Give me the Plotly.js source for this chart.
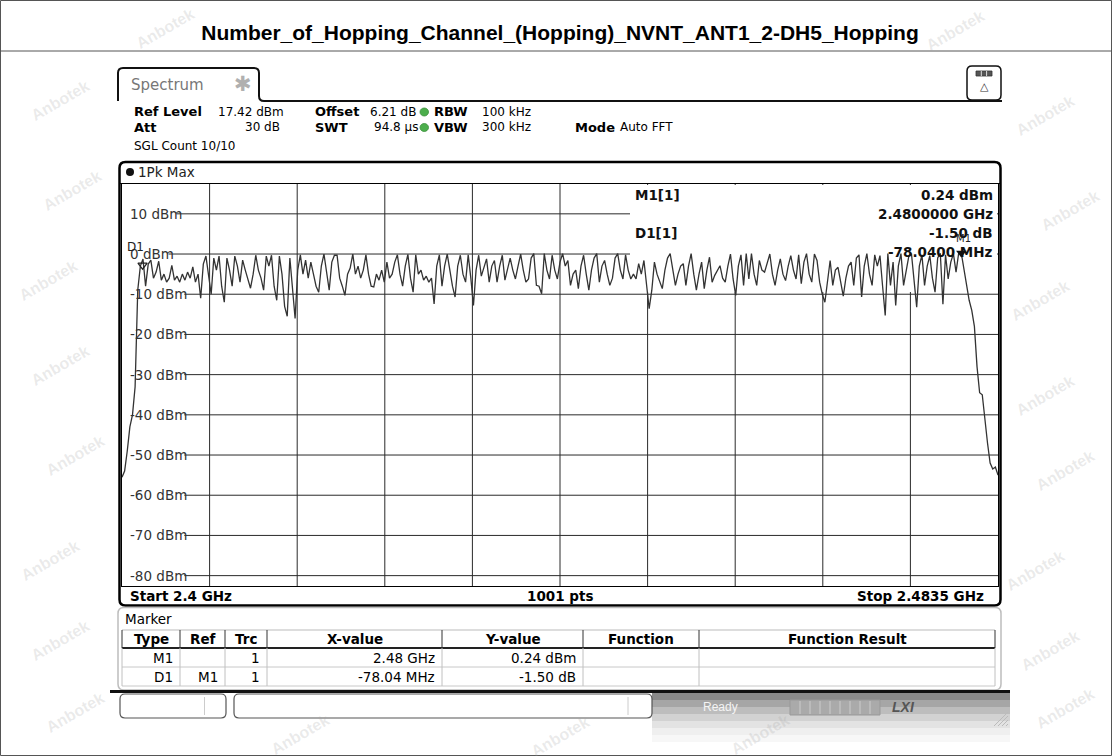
<!DOCTYPE html>
<html><head><meta charset="utf-8">
<script src="https://cdn.plot.ly/plotly-3.0.1.min.js"></script>
<style>html,body{margin:0;padding:0;background:#fff;}#chart{width:1112px;height:756px;}</style>
</head><body><div id="chart"></div>
<script>
// ---------------- data ----------------
const chartTitle = 'Number_of_Hopping_Channel_(Hopping)_NVNT_ANT1_2-DH5_Hopping';
const startFreqGHz = 2.4;
const stopFreqGHz = 2.4835;
const refLevelDbm = 17.42;
const displayRangeDb = 100;
const levelDbm = [
-55.5,-54,-49,-43,-40,-33,-9,-3,-1.26,-8,-2.5,-1.5,-6,-4.5,-1.8,-6.5,-5,-7,-6,-2.8,
-6.5,-5.5,-7,-5,-6.5,-4.5,-6,-3.2,-7,-5,-11,-2.5,-0.5,-6,-10,-1,-4,-0.5,-8,-12,
-1,-4,-8,-0.5,-3,-7,-1.5,-4,-6,-8.5,-5,-0.3,-4,-6,-9,-0.5,-3,-0.3,-8,-11.5,
-0.5,-5,-13,-15.5,-1,-8,-16,-4,-0.2,-5,-1.5,-6,-2,-5,-8,-9.5,-3,0,-5,-9,
-2,-0.3,-0.3,-6,-8,-10.3,-5,-3.5,0,-5,-3,-6,-4,-0.2,-5,-8,-8.2,-5,-6.5,-4,
-7,-2,-6,-5,-2,-0.2,-5,-8,-3,-0.1,-6,-9.5,-0.2,-5,-4,-6.5,-5.5,-7,-6,-12.4,
-3,-0.2,-8,-3,0,-4,-8,-10.7,-3,-0.3,-5,-7,-0.2,-6,-12.8,-4,-0.3,-5.5,-3,-1.2,
-7,-3,-1.6,-7,-3,-0.3,-6.5,-4,-1,-4,-6.2,-3,0,-4,-7,-6.2,-1,0.1,-7.8,-8,
-9.9,0.1,-4,-6.2,-0.3,-4,-6.2,-2,0.1,-3,-1.6,-7.8,-5,-4,-8.6,-3,-0.3,-5,-9,-4,
-1,0.1,-7,-3,-1.6,-5,-7.8,-6,-1,0.1,-4,-6.2,-0.2,-4,-6.2,-5,-6.2,-2.4,-5,-1.6,
-8,-13.6,-9,-2,-5,-7,-8.6,-4,-1,0.1,-4,-7.8,-5,-3,-2.4,-7.8,-3,0.1,-5,-9,
-5,-2,-8.6,-4,-0.8,-7,-5.3,-4,-2.9,-6,-7,-3,0,-6.2,-10.3,-3,-0.2,-7.8,0.1,-6.2,
0.1,-5,-7.8,-1.6,-4,-4.5,-2,0,-5,-7.8,-4,-1.2,-5,-6.6,-3,-0.4,-4,-6.2,-0.2,-7.4,
-2,0.1,-5,-7,0,-1.6,-7,-10,-12,-6.2,-1.6,-7.8,-4,-3.3,-7,-10.5,-6,-3,-2,-7.8,
-1,-0.2,-10.7,-3,0.1,-5,-7.8,-0.2,-3,-0.4,-8,-15.3,0.1,-7.8,-2,-12.8,-3,0.1,-7.8,-4,
-0.5,0.1,-6,-13.2,-3,-0.2,-7.8,-3,-0.4,-6,-9.5,-1,0.2,-12.5,-0.2,-6.2,-2,0.1,-4.5,0.2,
0.24,-3.7,-8,-11.5,-14,-18,-28,-34.5,-35,-42,-47,-52,-53.5,-53,-55
];
const yTickVals = [10, 0, -10, -20, -30, -40, -50, -60, -70, -80];
const yTickText = ['10 dBm','0 dBm','-10 dBm','-20 dBm','-30 dBm','-40 dBm','-50 dBm','-60 dBm','-70 dBm','-80 dBm'];
const xDivisions = 10;
const markerNames = ['M1', 'D1'];
const markerFreqGHz = [2.48, 2.40196];
const markerLevelDbm = [0.24, -1.26];
const markerInfoLabels = ['M1[1]', 'D1[1]'];
const markerInfoValues = [['0.24 dBm', '2.4800000 GHz'], ['-1.50 dB', '-78.0400 MHz']];
const tableHeaders = ['Type', 'Ref', 'Trc', 'X-value', 'Y-value', 'Function', 'Function Result'];
const tableRows = [
  ['M1', '', '1', '2.48 GHz', '0.24 dBm', '', ''],
  ['D1', 'M1', '1', '-78.04 MHz', '-1.50 dB', '', '']
];
const bottomLabels = ['Start 2.4 GHz', '1001 pts', 'Stop 2.4835 GHz'];
const traceLabel = '1Pk Max';

// ---------------- geometry helpers ----------------
const W = 1112, H = 756;
const PL = 122, PR = 998, PT = 184, PB = 586;
const X = px => (px - PL) / (PR - PL);
const Y = py => (PB - py) / (PB - PT);
const FONT = 'DejaVu Sans';
const shapes = [];
const ann = [];
function txt(px, py, text, o) {
  o = o || {};
  ann.push({xref: 'paper', yref: 'paper', x: X(px), y: Y(py), text: text, showarrow: false,
    xanchor: o.anchor || 'left', yanchor: 'middle',
    font: {family: o.family || FONT, size: o.size || 13.5, color: o.color || '#000', weight: o.bold ? 'bold' : 'normal'},
    textangle: o.angle || 0});
}
function line(x0, y0, x1, y1, color, width, layer) {
  shapes.push({type: 'line', xref: 'paper', yref: 'paper', x0: X(x0), y0: Y(y0), x1: X(x1), y1: Y(y1),
    line: {color: color, width: width}, layer: layer || 'above'});
}
function rect(x0, y0, x1, y1, fill, lineColor, lw, layer) {
  shapes.push({type: 'rect', xref: 'paper', yref: 'paper', x0: X(x0), y0: Y(y0), x1: X(x1), y1: Y(y1),
    fillcolor: fill, line: {color: lineColor || 'rgba(0,0,0,0)', width: lw || 0}, layer: layer || 'above'});
}
function rr(x0, y0, x1, y1, r, lineColor, lw, fill, layer) {
  const p = (a, b) => X(a) + ',' + Y(b);
  const d = 'M' + p(x0 + r, y0) + ' L' + p(x1 - r, y0) + ' Q' + p(x1, y0) + ' ' + p(x1, y0 + r) +
    ' L' + p(x1, y1 - r) + ' Q' + p(x1, y1) + ' ' + p(x1 - r, y1) + ' L' + p(x0 + r, y1) +
    ' Q' + p(x0, y1) + ' ' + p(x0, y1 - r) + ' L' + p(x0, y0 + r) + ' Q' + p(x0, y0) + ' ' + p(x0 + r, y0) + ' Z';
  shapes.push({type: 'path', xref: 'paper', yref: 'paper', path: d,
    line: {color: lineColor, width: lw}, fillcolor: fill || 'rgba(0,0,0,0)', layer: layer || 'above'});
}

// watermarks (faint)
const wm = [[60,100],[72,190],[48,280],[60,365],[75,455],[50,560],[60,640],[75,712],
  [1045,115],[1070,210],[1040,300],[1045,395],[1065,470],[1035,570],[1050,650],[1065,708],
  [165,28],[955,30],[300,734],[560,736],[760,734]];
wm.forEach(p => txt(p[0], p[1], 'Anbotek', {anchor: 'center', size: 16, color: 'rgba(160,160,160,0.22)', angle: -30, family: 'Liberation Sans', bold: true}));

// ---------------- grid (below traces) ----------------
const span = stopFreqGHz - startFreqGHz;
for (let k = 1; k < xDivisions; k++) {
  shapes.push({type: 'line', xref: 'x', yref: 'paper', x0: startFreqGHz + k * span / xDivisions,
    x1: startFreqGHz + k * span / xDivisions, y0: 0, y1: 1, line: {color: '#2a2a2a', width: 1}, layer: 'below'});
}
yTickVals.forEach((v, i) => {
  const endPx = 128 + yTickText[i].length * 7.9 + 1;
  shapes.push({type: 'line', xref: 'paper', yref: 'y', x0: X(endPx), x1: 1, y0: v, y1: v,
    line: {color: '#2a2a2a', width: 1}, layer: 'below'});
  txt(128, 0, yTickText[i], {color: '#333'});
  ann[ann.length - 1].yref = 'y'; ann[ann.length - 1].y = v;
});
// marker info box hides the grid in the upper right
rect(630, 185, 997, 292, '#fff', null, 0, 'below');

// ---------------- frames ----------------
shapes.push({type: 'path', xref: 'paper', yref: 'paper', layer: 'above',
  path: 'M' + X(118) + ',' + Y(101) + ' L' + X(118) + ',' + Y(73) + ' Q' + X(118) + ',' + Y(68) + ' ' + X(123) + ',' + Y(68) +
    ' L' + X(254) + ',' + Y(68) + ' Q' + X(259) + ',' + Y(68) + ' ' + X(259) + ',' + Y(73) +
    ' L' + X(259) + ',' + Y(96) + ' Q' + X(259) + ',' + Y(101) + ' ' + X(264) + ',' + Y(101) + ' L' + X(1002) + ',' + Y(101),
  line: {color: '#111', width: 2}});
rr(967, 66, 1001, 100, 5, '#111', 1.5, '#fff');
rect(976, 71, 992, 76, '#555', '#333', 0.8);
line(981.3, 71, 981.3, 76, '#ddd', 1); line(986.6, 71, 986.6, 76, '#ddd', 1);
txt(984, 87, '△', {anchor: 'center', size: 11, color: '#333'});
txt(129, 85, 'Spectrum', {size: 15, color: '#777'});
txt(243, 84, '✱', {anchor: 'center', size: 21, color: '#b0b0b0'});

// header settings
txt(132, 112, 'Ref Level', {bold: true, size: 13}); txt(216, 112, '17.42 dBm', {size: 12});
txt(313, 112, 'Offset', {bold: true, size: 13}); txt(368, 112, '6.21 dB', {size: 12});
txt(432, 112, 'RBW', {bold: true, size: 13}); txt(480, 112, '100 kHz', {size: 12});
txt(132, 127.5, 'Att', {bold: true, size: 13}); txt(282, 127.5, '30 dB', {anchor: 'right', size: 12});
txt(313, 127.5, 'SWT', {bold: true, size: 13}); txt(372, 127.5, '94.8 µs', {size: 12});
txt(432, 127.5, 'VBW', {bold: true, size: 13}); txt(480, 127.5, '300 kHz', {size: 12});
txt(573, 127.5, 'Mode', {bold: true, size: 13}); txt(618, 127.5, 'Auto FFT', {size: 12});
txt(132, 145.5, 'SGL Count 10/10', {size: 12});
[112, 127.5].forEach(yy => shapes.push({type: 'circle', xref: 'paper', yref: 'paper', x0: X(420), x1: X(428.5),
  y0: Y(yy - 4), y1: Y(yy + 4), fillcolor: '#4cae4c', line: {color: '#3a8f3a', width: 0.8}, layer: 'above'}));

// diagram frame
rr(119.5, 162, 1000.5, 605.5, 6, '#000', 2.5);
line(119.5, 183.5, 1000.5, 183.5, '#000', 1.2);
shapes.push({type: 'circle', xref: 'paper', yref: 'paper', x0: X(126), x1: X(134), y0: Y(168), y1: Y(176),
  fillcolor: '#111', line: {color: '#111', width: 0}, layer: 'above'});
txt(136, 172.5, traceLabel, {color: '#222'});
txt(128, 595.5, bottomLabels[0], {bold: true});
txt(560, 595.5, bottomLabels[1], {bold: true, anchor: 'center'});
txt(986, 595.5, bottomLabels[2], {bold: true, anchor: 'right'});

// marker info
markerInfoLabels.forEach((lab, i) => {
  txt(633, 195 + i * 38, lab, {bold: true, color: '#111'});
  txt(995, 195 + i * 38, markerInfoValues[i][0], {bold: true, anchor: 'right', color: '#111'});
  txt(995, 213.5 + i * 38, markerInfoValues[i][1], {bold: true, anchor: 'right', color: '#111'});
});
txt(963, 238, markerNames[0], {anchor: 'center', size: 10, color: '#222'});
txt(135, 247, markerNames[1], {anchor: 'center', size: 12, color: '#222'});

// marker table
rr(118, 607.5, 1001, 690, 6, '#bdbdbd', 1.5, '#fff');
txt(123, 619, 'Marker');
const colEdges = [122, 180, 225, 267, 442, 583, 699, 995];
line(122, 630, 995, 630, '#bbb', 1);
line(122, 648, 995, 648, '#222', 2);
line(122, 667, 995, 667, '#c8c8c8', 1);
line(122, 686, 995, 686, '#c8c8c8', 1);
colEdges.forEach((cx, i) => {
  line(cx, 630, cx, 648, '#333', 1);
  line(cx, 648, cx, 686, '#c0c0c0', 1);
});
tableHeaders.forEach((h, i) => txt((colEdges[i] + colEdges[i + 1]) / 2, 639, h, {bold: true, anchor: 'center'}));
tableRows.forEach((row, r) => row.forEach((c, i) => {
  if (c) txt(colEdges[i + 1] - 5, 657.5 + r * 19, c, {anchor: 'right'});
}));

// status bar
line(110, 691.5, 1010, 691.5, '#111', 3);
const grays = ['#8a8a8a', '#a6a6a6', '#bdbdbd', '#d2d2d2', '#e3e3e3', '#efefef', '#f7f7f7'];
grays.forEach((g, i) => rect(652, 693 + i * 7, 1010, 700 + i * 7, g, null, 0));
rr(120, 694, 226, 718, 5, '#555', 1.2, '#fff');
line(204.5, 697, 204.5, 715, '#ccc', 1);
rr(234, 694, 652, 718, 5, '#555', 1.2, '#fff');
line(628, 697, 628, 715, '#ccc', 1);
txt(720, 707, 'Ready', {anchor: 'center', size: 12, color: '#f4f4f4', family: 'Liberation Sans'});
rect(790, 700, 880, 715, '#aaa', '#999', 1);
for (let k = 1; k < 9; k++) line(790 + k * 10, 701, 790 + k * 10, 714, '#ccc', 1);
txt(903, 707, '<i>LXI</i>', {anchor: 'center', size: 14, color: '#555', bold: true, family: 'Liberation Sans'});
for (let k = 0; k < 4; k++) line(994 + k * 4, 726, 1008, 712 + k * 4, '#bbb', 1);

// outer border + title separator
rect(0.5, 0.5, 1111.5, 755.5, 'rgba(0,0,0,0)', '#555', 1);
line(0, 51, 1112, 51, '#555', 1);

// ---------------- traces ----------------
const freqGHz = levelDbm.map((_, i) => startFreqGHz + i * span / (levelDbm.length - 1));
const traces = [
  {type: 'scatter', mode: 'lines', x: freqGHz, y: levelDbm, line: {color: '#333', width: 1.3},
    hoverinfo: 'skip', showlegend: false, cliponaxis: true},
  {type: 'scatter', mode: 'markers', x: [markerFreqGHz[0]], y: [markerLevelDbm[0]],
    marker: {symbol: 'triangle-down', size: 9, color: '#111'}, showlegend: false, cliponaxis: false},
  {type: 'scatter', mode: 'markers', x: [markerFreqGHz[1]], y: [markerLevelDbm[1] - 1.5],
    marker: {symbol: 'triangle-down-open', size: 8, color: '#222', line: {width: 1.3}}, showlegend: false, cliponaxis: false}
];

const layout = {
  width: W, height: H,
  margin: {l: PL, r: W - PR, t: PT, b: H - PB, pad: 0},
  paper_bgcolor: '#fff', plot_bgcolor: '#fff',
  title: {text: '<b>' + chartTitle + '</b>', x: 560 / W, xanchor: 'center', y: 1 - 33 / H, yanchor: 'middle',
    yref: 'container', xref: 'container', font: {family: 'Liberation Sans', size: 21, color: '#000'}},
  xaxis: {range: [startFreqGHz, stopFreqGHz], showgrid: false, zeroline: false, showticklabels: false,
    ticks: '', showline: true, linecolor: '#000', linewidth: 1, mirror: true, fixedrange: true},
  yaxis: {range: [refLevelDbm - displayRangeDb, refLevelDbm], showgrid: false, zeroline: false,
    showticklabels: false, ticks: '', showline: true, linecolor: '#000', linewidth: 1, mirror: true, fixedrange: true},
  shapes: shapes, annotations: ann, showlegend: false
};
Plotly.newPlot('chart', traces, layout, {displayModeBar: false, staticPlot: true});
</script></body></html>
